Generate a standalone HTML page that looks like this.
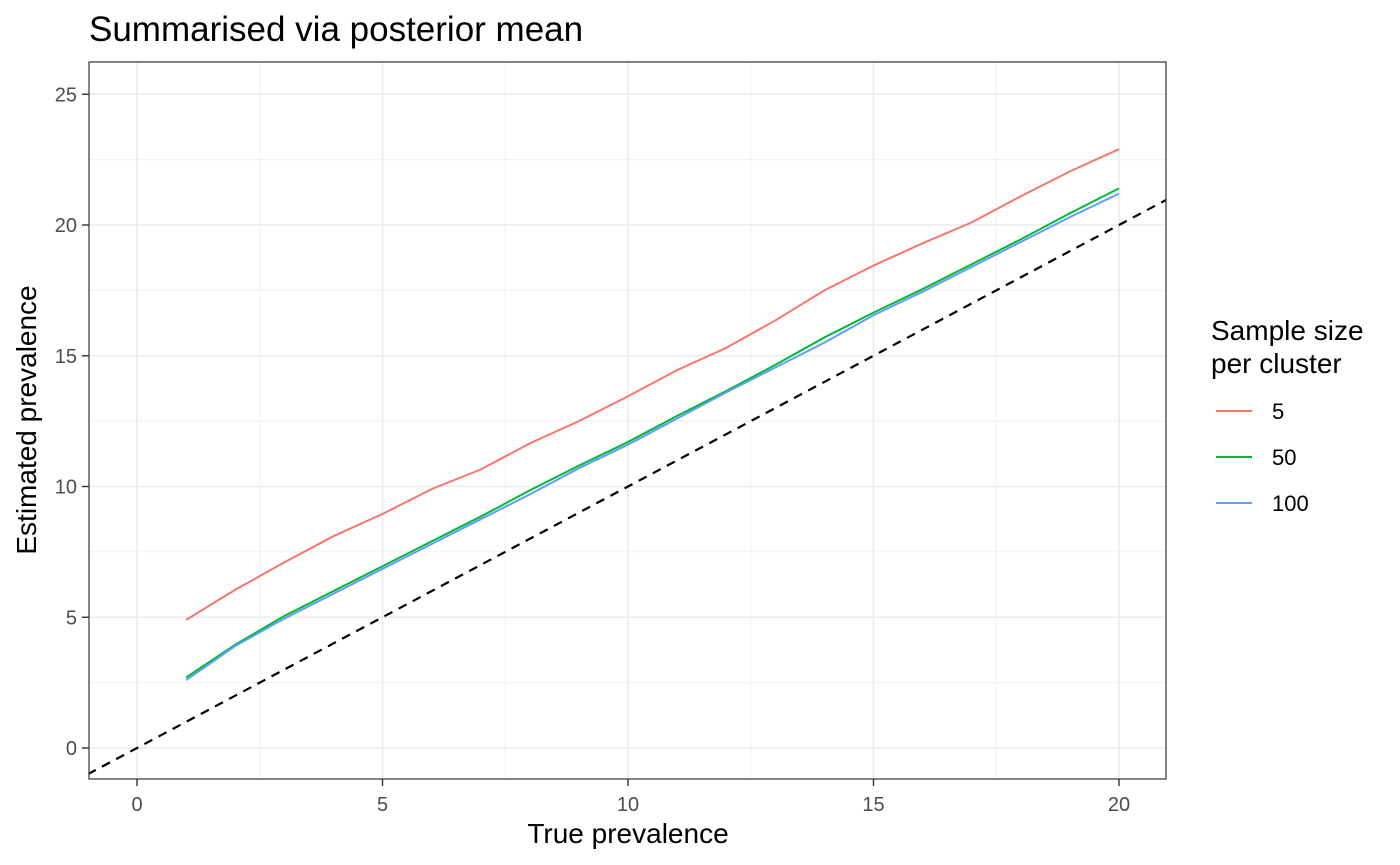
<!DOCTYPE html>
<html><head><meta charset="utf-8"><style>
body{margin:0;background:#fff;}
svg{display:block;font-family:"Liberation Sans",Arial,sans-serif;}
</style></head><body>
<svg id="chart" width="1400" height="865" viewBox="0 0 1400 865">
<defs><clipPath id="clip"><rect x="89" y="62" width="1077" height="717"/></clipPath></defs>
<text x="89" y="41" font-size="35" fill="#000">Summarised via posterior mean</text>
<g id="grid"></g>
<g id="series" clip-path="url(#clip)"></g>
<rect x="89" y="62" width="1077" height="717" fill="none" stroke="#333" stroke-width="1.2"/>
<g id="axes"></g>
<text x="628" y="843" font-size="28" text-anchor="middle">True prevalence</text>
<text transform="translate(36,420) rotate(-90)" font-size="28" text-anchor="middle">Estimated prevalence</text>
<g>
<text x="1211" y="340" font-size="28">Sample size</text>
<text x="1211" y="373" font-size="28">per cluster</text>
<g><line x1="1216" x2="1252" y1="411" y2="411" stroke="#F8766D" stroke-width="2"/><text x="1272" y="419" font-size="22">5</text></g>
<g><line x1="1216" x2="1252" y1="457" y2="457" stroke="#00BA38" stroke-width="2"/><text x="1272" y="465" font-size="22">50</text></g>
<g><line x1="1216" x2="1252" y1="503" y2="503" stroke="#619CFF" stroke-width="2"/><text x="1272" y="511" font-size="22">100</text></g>
</g>
</svg>
<script>
const xs = [1,2,3,4,5,6,7,8,9,10,11,12,13,14,15,16,17,18,19,20];
const s5 = [4.9,6.05,7.1,8.1,8.95,9.9,10.65,11.65,12.5,13.45,14.45,15.3,16.35,17.5,18.45,19.3,20.1,21.1,22.05,22.9];
const s50 = [2.7,3.95,5.05,6.0,6.95,7.9,8.85,9.85,10.8,11.7,12.7,13.65,14.65,15.7,16.65,17.55,18.5,19.45,20.45,21.4];
const s100 = [2.6,3.9,4.95,5.9,6.85,7.8,8.75,9.7,10.7,11.6,12.6,13.6,14.55,15.5,16.55,17.45,18.4,19.35,20.3,21.2];
const xTicks = [0,5,10,15,20];
const yTicks = [0,5,10,15,20,25];
const NS="http://www.w3.org/2000/svg";
const X=v=>137+v*49.1;
const Y=v=>748-v*26.15;
function mk(tag,attrs,parent){const e=document.createElementNS(NS,tag);for(const k in attrs)e.setAttribute(k,attrs[k]);parent.appendChild(e);return e;}
const grid=document.getElementById('grid'),axes=document.getElementById('axes'),ser=document.getElementById('series');
mk('rect',{x:89,y:62,width:1077,height:717,fill:'#fff'},grid);
xTicks.forEach((t,i)=>{
 if(i<xTicks.length-1){const m=(t+xTicks[i+1])/2;const l=mk('line',{x1:X(m),x2:X(m),y1:62,y2:779,stroke:'#f0f0f0','stroke-width':1},grid);}
 const g=mk('line',{x1:X(t),x2:X(t),y1:62,y2:779,stroke:'#ebebeb','stroke-width':1.6},grid);
 
 mk('line',{x1:X(t),x2:X(t),y1:779,y2:786,stroke:'#333','stroke-width':1.4},axes);
 const tx=mk('text',{x:X(t),y:811,'font-size':20,'text-anchor':'middle',fill:'#4d4d4d'},axes);tx.textContent=t;
 
});
yTicks.forEach((t,i)=>{
 if(i<yTicks.length-1){const m=(t+yTicks[i+1])/2;const l=mk('line',{x1:89,x2:1166,y1:Y(m),y2:Y(m),stroke:'#f0f0f0','stroke-width':1},grid);}
 const g=mk('line',{x1:89,x2:1166,y1:Y(t),y2:Y(t),stroke:'#ebebeb','stroke-width':1.6},grid);
 
 mk('line',{x1:82,x2:89,y1:Y(t),y2:Y(t),stroke:'#333','stroke-width':1.4},axes);
 const tx=mk('text',{x:77,y:Y(t)+7,'font-size':20,'text-anchor':'end',fill:'#4d4d4d'},axes);tx.textContent=t;
 
});
const d=mk('line',{x1:X(-1),y1:Y(-1),x2:X(21),y2:Y(21),stroke:'#000','stroke-width':2.2,'stroke-dasharray':'9,7'},ser);

[[s5,'#F8766D','line-5'],[s50,'#00BA38','line-50'],[s100,'#619CFF','line-100']].forEach(([s,c,n])=>{
 const p=mk('polyline',{points:xs.map((x,i)=>X(x)+','+Y(s[i])).join(' '),fill:'none',stroke:c,'stroke-width':2},ser);
 
});
</script>
</body></html>
